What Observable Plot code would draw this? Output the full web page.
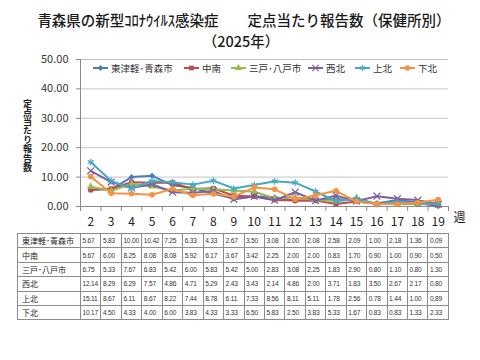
<!DOCTYPE html>
<html><head><meta charset="utf-8">
<script src="https://cdn.jsdelivr.net/npm/d3@7"></script>
<script src="https://cdn.jsdelivr.net/npm/@observablehq/plot@0.6"></script>
<style>
html,body{margin:0;padding:0;background:#fff;}
#root{position:relative;width:480px;height:360px;overflow:hidden;font-family:"Noto Sans CJK JP",sans-serif;}
.title{position:absolute;left:0;width:488px;text-align:center;font-size:14.5px;color:#1a1a1a;font-weight:500;white-space:nowrap;}
#chart{position:absolute;left:0;top:50px;}
#ylab{position:absolute;left:22px;top:99px;writing-mode:vertical-rl;text-orientation:upright;font-size:9px;letter-spacing:0.1px;line-height:11px;font-weight:bold;color:#222;white-space:nowrap;}
#legend{position:absolute;top:61px;left:0;width:480px;height:14px;font-size:9.5px;color:#333;}
#legend .item{position:absolute;top:0;display:flex;align-items:center;white-space:nowrap;}
#legend svg{margin-right:2px;}
table{position:absolute;left:17px;top:233px;border-collapse:collapse;table-layout:fixed;width:431px;}
td{border:1px solid #8c8c8c;height:13.4px;padding:0 0 0 1.5px;font-family:"Liberation Sans",Arial,sans-serif;font-size:6.6px;letter-spacing:-0.2px;color:#333;white-space:nowrap;overflow:hidden;line-height:13px;}
td.lab{font-family:"Noto Sans CJK JP",sans-serif;font-size:8px;letter-spacing:0;padding-left:4px;color:#222;font-weight:normal;}
</style></head>
<body><div id="root">
<div class="title" style="top:9px;">青森県の新型ｺﾛﾅｳｲﾙｽ感染症　　定点当たり報告数（保健所別）</div>
<div class="title" style="top:30px;width:482px;">（2025年）</div>
<div id="chart"></div>
<div id="ylab"></div>
<div id="legend"></div>
</div>
<script>
const weeks = [2,3,4,5,6,7,8,9,10,11,12,13,14,15,16,17,18,19];
const series = ["東津軽･青森市","中南","三戸･八戸市","西北","上北","下北"];
const vHigashi = [5.67,5.83,10.00,10.42,7.25,6.33,4.33,2.67,3.50,3.08,2.00,2.08,2.58,2.09,1.00,2.18,1.36,0.09];
const vChunan  = [5.67,6.00,8.25,8.08,8.08,5.92,6.17,3.67,3.42,2.25,2.00,2.00,0.83,1.70,0.90,1.00,0.90,0.50];
const vSannohe = [6.75,5.33,7.67,6.83,5.42,6.00,5.83,5.42,5.00,2.83,3.08,2.25,1.83,2.90,0.80,1.10,0.80,1.30];
const vSeihoku = [12.14,8.29,6.29,7.57,4.86,4.71,5.29,2.43,3.43,2.14,4.86,2.00,3.71,1.83,3.50,2.67,2.17,0.80];
const vKamikita= [15.11,8.67,6.11,8.67,8.22,7.44,8.78,6.11,7.33,8.56,8.11,5.11,1.78,2.56,0.78,1.44,1.00,0.89];
const vShimokita=[10.17,4.50,4.33,4.00,6.00,3.83,4.33,3.33,6.50,5.83,2.50,3.83,5.33,1.67,0.83,0.83,1.33,2.33];
const values = [vHigashi,vChunan,vSannohe,vSeihoku,vKamikita,vShimokita];
const colors = ["#4A7EBB","#BE4B48","#98B954","#7D60A0","#46AAC5","#F69240"];
const symbols = ["diamond2","square","triangle","times","asterisk","circle"];
const filled = [true,true,true,false,false,true];
const yTicks = [0,10,20,30,40,50];
const yTitle = "定点当たり報告数";

const data = series.flatMap((s,i)=>weeks.map((w,j)=>({series:s, week:w, value:values[i][j]})));
const edges = weeks.map(w=>w-0.5).concat([weeks[weeks.length-1]+0.5]);

const marks = [
  Plot.ruleY(yTicks.filter(t=>t>0), {stroke:"#c4c4c4", strokeWidth:1}),
  Plot.ruleY([0], {stroke:"#8a8a8a"}),
  Plot.ruleX([edges[0]], {y1:0, y2:50, stroke:"#8a8a8a"}),
  Plot.axisY({ticks:yTicks, tickSize:4, tickPadding:8, tickFormat:d3.format(".2f"), fontSize:11, stroke:"#8a8a8a", color:"#333", label:null}),
  Plot.axisX({ticks:weeks, tickSize:0, tickPadding:11, fontSize:12, color:"#222", label:null, tickFormat:d=>String(d)}),
  Plot.axisX({ticks:edges, tickSize:5, tickFormat:()=>"", stroke:"#8a8a8a", label:null}),
  Plot.text(["週"], {frameAnchor:"bottom-right", dx:17, dy:15, fontSize:12, fill:"#222"})
];
series.forEach((s,i)=>{
  const d = data.filter(r=>r.series===s);
  marks.push(Plot.line(d, {x:"week", y:"value", stroke:colors[i], strokeWidth:2}));
  marks.push(Plot.dot(d, filled[i]
    ? {x:"week", y:"value", symbol:()=>symbols[i], fill:colors[i], r:2.8}
    : {x:"week", y:"value", symbol:()=>symbols[i], stroke:colors[i], fill:"none", strokeWidth:1.2, r:3.2}));
});

const chart = Plot.plot({
  width:480, height:180,
  marginLeft:80, marginRight:32, marginTop:9, marginBottom:24,
  style:{fontFamily:"'Noto Sans CJK JP', sans-serif", background:"transparent"},
  x:{type:"linear", domain:[edges[0], edges[edges.length-1]], axis:null},
  y:{domain:[0,50], axis:null},
  symbol:{type:"identity"},
  marks
});
document.getElementById("chart").appendChild(chart);

// vertical y title
document.getElementById("ylab").textContent = yTitle;

// legend
const legendX = [92,183,230,307,354,399];
const lg = document.getElementById("legend");
series.forEach((s,i)=>{
  const it = document.createElement("div");
  it.className="item"; it.style.left = legendX[i]+"px";
  const ns="http://www.w3.org/2000/svg";
  const svg=document.createElementNS(ns,"svg");
  svg.setAttribute("width",17); svg.setAttribute("height",14);
  const ln=document.createElementNS(ns,"line");
  ln.setAttribute("x1",1);ln.setAttribute("x2",16);ln.setAttribute("y1",7);ln.setAttribute("y2",7);
  ln.setAttribute("stroke",colors[i]);ln.setAttribute("stroke-width",2);
  svg.appendChild(ln);
  const symMap={diamond2:d3.symbolDiamond2,square:d3.symbolSquare,triangle:d3.symbolTriangle,times:d3.symbolTimes,asterisk:d3.symbolAsterisk,circle:d3.symbolCircle};
  const p=document.createElementNS(ns,"path");
  p.setAttribute("d",d3.symbol(symMap[symbols[i]], filled[i]?22:28)());
  p.setAttribute("transform","translate(8.5,7)");
  if(filled[i]){p.setAttribute("fill",colors[i]);} else {p.setAttribute("fill","none");p.setAttribute("stroke",colors[i]);p.setAttribute("stroke-width",1.1);}
  svg.appendChild(p);
  it.appendChild(svg);
  const t=document.createElement("span"); t.textContent=s; it.appendChild(t);
  lg.appendChild(it);
});

// data table
const table=document.createElement("table");
const cg=document.createElement("colgroup");
const c0=document.createElement("col"); c0.style.width="63px"; cg.appendChild(c0);
weeks.forEach(()=>{const c=document.createElement("col"); c.style.width=(368/weeks.length)+"px"; cg.appendChild(c);});
table.appendChild(cg);
series.forEach((s,i)=>{
  const tr=document.createElement("tr");
  const th=document.createElement("td"); th.className="lab"; th.textContent=s; tr.appendChild(th);
  values[i].forEach(v=>{const td=document.createElement("td"); td.textContent=v.toFixed(2); tr.appendChild(td);});
  table.appendChild(tr);
});
document.getElementById("root").appendChild(table);
</script>
</body></html>
